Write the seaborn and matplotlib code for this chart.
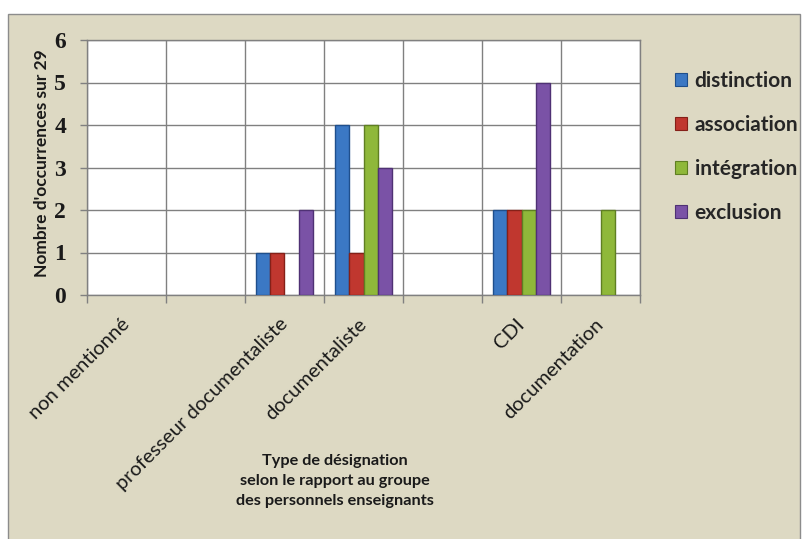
import numpy as np
import pandas as pd
import matplotlib
matplotlib.use("Agg")
import matplotlib.pyplot as plt
from matplotlib.patches import Rectangle, Patch
import seaborn as sns

# Data
categories = ["non mentionné", "", "professeur documentaliste", "documentaliste",
              "", "CDI", "documentation"]
series = ["distinction", "association", "intégration", "exclusion"]
distinction = [0, 0, 1, 4, 0, 2, 0]
association = [0, 0, 1, 1, 0, 2, 0]
integration = [0, 0, 0, 4, 0, 2, 2]
exclusion = [0, 0, 2, 3, 0, 5, 0]

colors = ["#3b78c4", "#c0372f", "#8fb83a", "#7a52a6"]
edges = ["#1f4f8c", "#852018", "#5f7f22", "#4f3174"]

values = [distinction, association, integration, exclusion]
rows = []
for name, vals in zip(series, values):
    for i, v in enumerate(vals):
        rows.append({"slot": i, "serie": name, "valeur": v})
df = pd.DataFrame(rows)

sns.set_theme(style="white")
plt.rcParams["font.family"] = ["Lato", "DejaVu Sans"]

W, H = 807, 539
fig = plt.figure(figsize=(W / 100, H / 100), dpi=100)
fig.patch.set_facecolor("white")

# beige chart frame
frame = Rectangle((8 / W, -0.02), (800 - 8) / W, 1.02 - 14 / H,
                  transform=fig.transFigure, facecolor="#ddd9c3",
                  edgecolor="#8c8c8c", linewidth=1, zorder=-10)
fig.add_artist(frame)

ax = fig.add_axes([87 / W, 1 - 295 / H, (640 - 87) / W, (295 - 40) / H])
ax.set_zorder(1)
ax.set_facecolor("white")

sns.barplot(data=df, x="slot", y="valeur", hue="serie", order=range(7),
            hue_order=series, palette=colors, width=0.72, ax=ax,
            saturation=1, zorder=3, legend=False)

for cont, ec in zip(ax.containers, edges):
    for p in cont:
        p.set_edgecolor(ec)
        p.set_linewidth(1.0)
        if p.get_height() == 0:
            p.set_visible(False)

ax.set_xlim(-0.5, 6.5)
ax.set_ylim(0, 6)
ax.set_yticks(range(7))
ax.set_yticklabels([str(i) for i in range(7)], fontfamily="Liberation Serif",
                   fontweight="bold", fontsize=17, color="#1a1a1a")
ax.set_xticks(range(7))
ax.set_xticklabels(categories, rotation=45, ha="right", rotation_mode="anchor",
                   va="center", fontsize=14.5, color="#1a1a1a")
ax.set_xticks(np.arange(-0.5, 7, 1), minor=True)

ax.tick_params(axis="y", which="major", direction="out", length=5, width=1,
               color="#808080", pad=10, left=True)
ax.tick_params(axis="x", which="major", length=0, pad=19)
ax.tick_params(axis="x", which="minor", direction="out", length=6, width=1,
               color="#808080", bottom=True)

ax.grid(False)
ax.yaxis.grid(True, color="#808080", linewidth=1)
ax.xaxis.grid(True, which="minor", color="#808080", linewidth=1)
ax.set_axisbelow(True)
for s in ax.spines.values():
    s.set_color("#808080")
    s.set_linewidth(1)

ax.set_xlabel("")
ax.set_ylabel("")

fig.text(42 / W, 1 - 163 / H, "Nombre d'occurrences sur 29", rotation=90,
         ha="center", va="center", fontsize=12.5, fontweight="bold",
         color="#1a1a1a")
fig.text(335 / W, 1 - 481 / H,
         "Type de désignation\nselon le rapport au groupe\ndes personnels enseignants",
         ha="center", va="center", fontsize=11.7, fontweight="bold",
         linespacing=1.55, color="#1a1a1a")

handles = [Patch(facecolor=c, edgecolor=e, linewidth=0.8) for c, e in zip(colors, edges)]
fig.legend(handles, series, loc="upper left", bbox_to_anchor=(656 / W, 1 - 52 / H),
           frameon=False, handlelength=0.6, handleheight=0.6,
           handletextpad=0.35, labelspacing=1.15,
           prop={"family": "Lato", "weight": "bold", "size": 15})

fig.savefig("out.png", dpi=100, facecolor=fig.get_facecolor())
